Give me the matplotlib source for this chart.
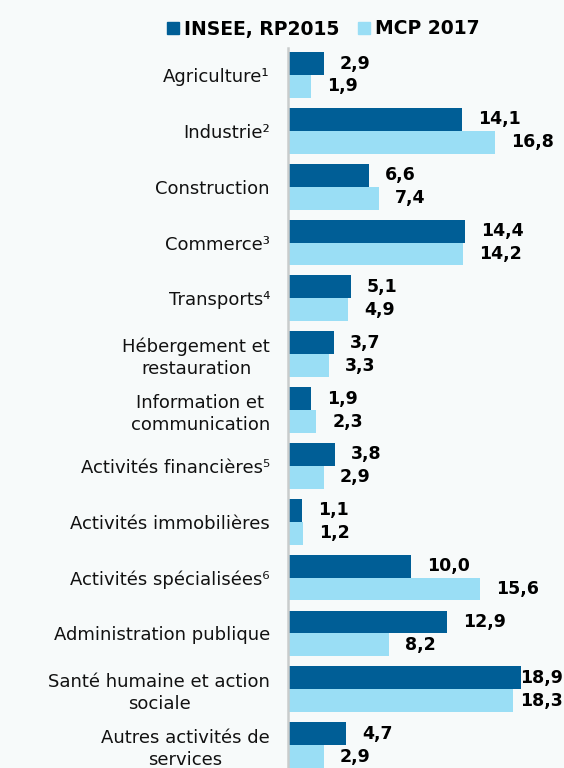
import matplotlib
matplotlib.use("Agg")
import matplotlib.pyplot as plt
import numpy as np
from matplotlib.lines import Line2D

categories = [
    "Agriculture¹", "Industrie²", "Construction", "Commerce³", "Transports⁴",
    "Hébergement et\nrestauration", "Information et\ncommunication",
    "Activités financières⁵", "Activités immobilières", "Activités spécialisées⁶",
    "Administration publique", "Santé humaine et action\nsociale",
    "Autres activités de\nservices",
]
insee = [2.9, 14.1, 6.6, 14.4, 5.1, 3.7, 1.9, 3.8, 1.1, 10.0, 12.9, 18.9, 4.7]
mcp = [1.9, 16.8, 7.4, 14.2, 4.9, 3.3, 2.3, 2.9, 1.2, 15.6, 8.2, 18.3, 2.9]
series_names = ["INSEE, RP2015", "MCP 2017"]

dark = "#005E96"
light = "#9ADEF5"
bg = "#F7FAFA"

def fmt(v):
    return f"{v:.1f}".replace(".", ",")

fig = plt.figure(figsize=(5.64, 7.68), dpi=100, facecolor=bg)
ax = fig.add_axes([288/564, 0, 1 - 288/564, (768 - 48)/768])
ax.set_facecolor(bg)

y = np.arange(len(categories))
h = 0.41
ax.barh(y - h/2, insee, height=h, color=dark)
ax.barh(y + h/2, mcp, height=h, color=light)

for yi, v in zip(y, insee):
    ax.text(min(v + 1.3, 18.8), yi - h/2, fmt(v), ha="left", va="center",
            fontsize=12.5, fontweight="bold", color="black")
for yi, v in zip(y, mcp):
    ax.text(min(v + 1.3, 18.8), yi + h/2, fmt(v), ha="left", va="center",
            fontsize=12.5, fontweight="bold", color="black")

ax.set_xlim(0, 22.4)
ax.set_ylim(len(categories) - 1 + 0.41, -0.484)
ax.set_yticks(y)
ax.set_yticklabels(categories, fontsize=13, multialignment="center",
                   color="#111111", linespacing=1.25)
ax.tick_params(axis="y", length=0, pad=13)
ax.set_xticks([])
for s in ["top", "right", "bottom"]:
    ax.spines[s].set_visible(False)
ax.spines["left"].set_color("#C9CCCC")
ax.spines["left"].set_linewidth(1.8)

handles = [Line2D([], [], marker="s", linestyle="none", markersize=8.5,
                  markerfacecolor=c, markeredgecolor=c) for c in (dark, light)]
fig.legend(handles, series_names, loc="center", bbox_to_anchor=(0.572, 1 - 29/768),
           ncol=2, frameon=False, handletextpad=0.2, columnspacing=0.9,
           handlelength=0.8, prop={"weight": "bold", "size": 13.5})

fig.savefig("out.png", dpi=100, facecolor=bg)
